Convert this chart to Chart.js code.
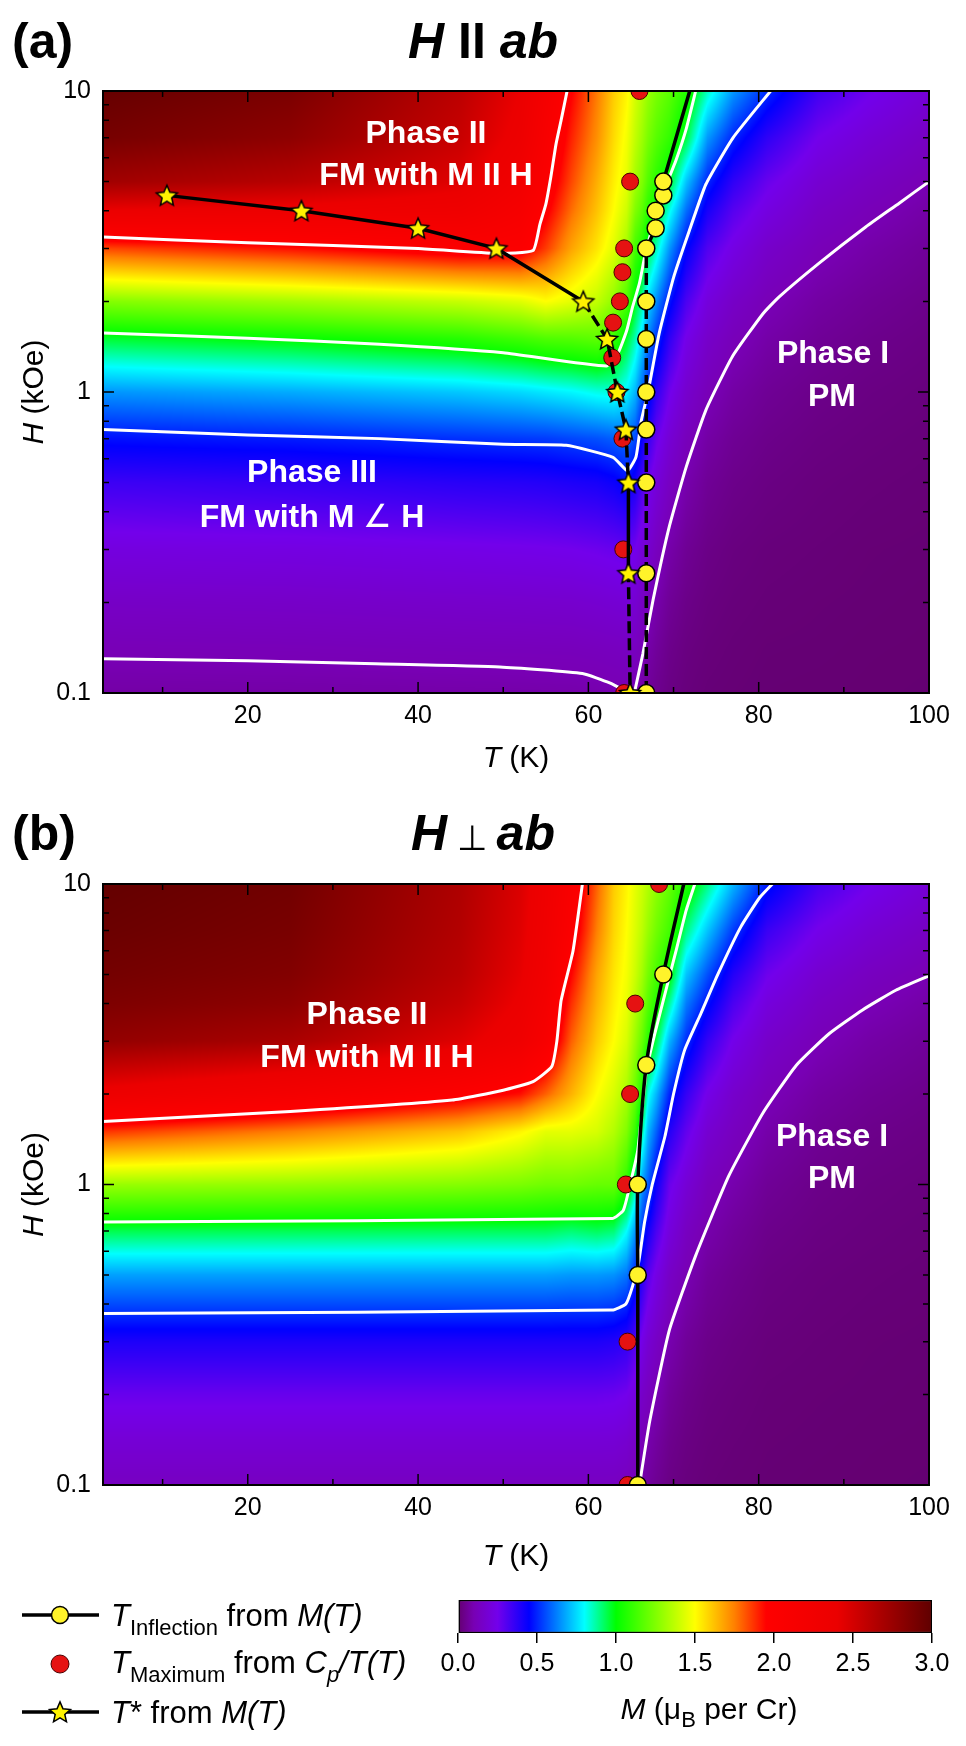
<!DOCTYPE html>
<html lang="en">
<head>
<meta charset="UTF-8">
<title>Phase diagram, H II ab and H ⊥ ab</title>
<script src="https://cdn.jsdelivr.net/npm/chart.js"></script>
<style>
    body { margin: 0; background: #fff; }
    .panel { position: absolute; left: 0; }
</style>
</head>
<body>
<canvas id="chartA" class="panel" width="966" height="780" style="top:0"></canvas>
<canvas id="chartB" class="panel" width="966" height="790" style="top:790px"></canvas>
<canvas id="chartC" class="panel" width="966" height="166" style="top:1580px"></canvas>

<script>
const FONT = '"Liberation Sans", Arial, Helvetica, sans-serif';

// ---------- axes ----------
const xTickVals = [10, 20, 30, 40, 50, 60, 70, 80, 90, 100];
const xLabelTicks = [20, 40, 60, 80, 100];
const yTickVals = [0.1, 0.2, 0.3, 0.4, 0.5, 0.6, 0.7, 0.8, 0.9, 1, 2, 3, 4, 5, 6, 7, 8, 9, 10];
const yLabelTicks = [0.1, 1, 10];
const cbarTicks = [0, 0.5, 1, 1.5, 2, 2.5, 3];

// colour scale of M (muB per Cr)
const cmapVals = [0, 0.1, 0.25, 0.45, 0.8, 1.0, 1.5, 1.75, 1.95, 2.4, 3.0];
const cmapRGB = [[100,0,112],[120,0,180],[115,0,235],[0,0,255],[0,255,255],[0,255,0],
                 [255,255,0],[255,128,0],[255,0,0],[235,0,0],[95,0,0]];

// ---------- magnetisation maps ----------
// nodes of the map: temperature (K) and field (kOe)
const tempNodes = [3, 25, 45, 52, 55, 58, 61, 63, 64.5, 65.5, 66.3, 67, 68, 69.5, 71.5, 74, 77, 81, 87, 93, 100];
const fieldNodes = [0.1, 0.14, 0.2, 0.3, 0.5, 0.7, 1, 1.5, 2, 3, 4, 5, 7, 10];

// panel (a): one row per temperature node, values at each field node
const magA = [
    [0.079, 0.107, 0.149, 0.216, 0.345, 0.469, 0.655, 0.958, 1.257, 1.843, 2.4, 2.72, 2.9, 2.97],
    [0.080, 0.111, 0.154, 0.224, 0.358, 0.487, 0.685, 1.005, 1.32, 1.93, 2.35, 2.62, 2.8, 2.88],
    [0.083, 0.117, 0.163, 0.237, 0.38, 0.515, 0.725, 1.07, 1.39, 2.04, 2.3, 2.45, 2.55, 2.6],
    [0.084, 0.118, 0.166, 0.242, 0.385, 0.525, 0.75, 1.12, 1.44, 2.02, 2.15, 2.25, 2.35, 2.4],
    [0.085, 0.119, 0.168, 0.245, 0.39, 0.53, 0.77, 1.15, 1.5, 1.86, 1.98, 2.05, 2.12, 2.18],
    [0.086, 0.12, 0.17, 0.25, 0.40, 0.545, 0.79, 1.16, 1.45, 1.68, 1.78, 1.84, 1.9, 1.96],
    [0.089, 0.125, 0.178, 0.26, 0.41, 0.56, 0.82, 1.18, 1.38, 1.55, 1.62, 1.66, 1.72, 1.76],
    [0.095, 0.13, 0.185, 0.27, 0.43, 0.58, 0.83, 1.1, 1.28, 1.44, 1.5, 1.53, 1.57, 1.6],
    [0.099, 0.135, 0.19, 0.28, 0.46, 0.6, 0.78, 0.97, 1.15, 1.32, 1.4, 1.45, 1.48, 1.52],
    [0.097, 0.13, 0.18, 0.25, 0.41, 0.55, 0.7, 0.86, 0.98, 1.13, 1.25, 1.32, 1.38, 1.42],
    [0.078, 0.105, 0.145, 0.2, 0.33, 0.44, 0.58, 0.75, 0.88, 1.06, 1.18, 1.25, 1.31, 1.36],
    [0.06, 0.083, 0.117, 0.17, 0.26, 0.36, 0.5, 0.63, 0.75, 0.96, 1.08, 1.16, 1.24, 1.3],
    [0.045, 0.063, 0.088, 0.13, 0.2, 0.27, 0.37, 0.52, 0.64, 0.85, 1.01, 1.08, 1.17, 1.24],
    [0.029, 0.04, 0.057, 0.085, 0.14, 0.19, 0.26, 0.37, 0.48, 0.66, 0.82, 0.98, 1.1, 1.18],
    [0.018, 0.025, 0.036, 0.054, 0.089, 0.12, 0.17, 0.24, 0.32, 0.46, 0.6, 0.72, 0.95, 1.07],
    [0.011, 0.016, 0.023, 0.034, 0.056, 0.078, 0.11, 0.16, 0.21, 0.31, 0.41, 0.5, 0.66, 0.85],
    [0.008, 0.011, 0.016, 0.023, 0.039, 0.054, 0.077, 0.114, 0.152, 0.23, 0.3, 0.37, 0.5, 0.66],
    [0.005, 0.007, 0.011, 0.016, 0.028, 0.039, 0.055, 0.082, 0.107, 0.16, 0.22, 0.27, 0.37, 0.51],
    [0.004, 0.006, 0.008, 0.012, 0.019, 0.027, 0.038, 0.057, 0.075, 0.11, 0.145, 0.18, 0.25, 0.34],
    [0.003, 0.004, 0.006, 0.008, 0.014, 0.02, 0.028, 0.042, 0.056, 0.083, 0.11, 0.137, 0.19, 0.26],
    [0.002, 0.003, 0.004, 0.006, 0.01, 0.014, 0.02, 0.03, 0.04, 0.06, 0.08, 0.1, 0.14, 0.19]
];

// panel (b)
const magB = [
    [0.136, 0.19, 0.27, 0.40, 0.67, 0.94, 1.30, 1.87, 2.35, 2.78, 2.87, 2.91, 2.95, 2.98],
    [0.135, 0.19, 0.27, 0.40, 0.67, 0.935, 1.29, 1.75, 2.2, 2.68, 2.8, 2.85, 2.89, 2.92],
    [0.135, 0.19, 0.27, 0.40, 0.67, 0.93, 1.26, 1.62, 2.02, 2.45, 2.56, 2.61, 2.64, 2.66],
    [0.135, 0.19, 0.27, 0.40, 0.67, 0.93, 1.24, 1.52, 1.93, 2.3, 2.38, 2.42, 2.45, 2.47],
    [0.135, 0.19, 0.27, 0.40, 0.67, 0.93, 1.22, 1.45, 1.8, 2.12, 2.2, 2.25, 2.28, 2.3],
    [0.135, 0.19, 0.27, 0.40, 0.66, 0.91, 1.22, 1.45, 1.65, 1.8, 1.88, 1.95, 2.05, 2.1],
    [0.135, 0.19, 0.27, 0.40, 0.66, 0.93, 1.2, 1.42, 1.5, 1.6, 1.65, 1.68, 1.75, 1.8],
    [0.134, 0.188, 0.265, 0.39, 0.65, 0.91, 1.2, 1.35, 1.42, 1.5, 1.53, 1.55, 1.58, 1.6],
    [0.125, 0.175, 0.25, 0.37, 0.61, 0.8, 1.08, 1.25, 1.33, 1.42, 1.46, 1.48, 1.5, 1.52],
    [0.104, 0.145, 0.21, 0.31, 0.5, 0.66, 0.88, 1.1, 1.2, 1.3, 1.36, 1.4, 1.43, 1.45],
    [0.08, 0.11, 0.155, 0.235, 0.39, 0.53, 0.66, 0.88, 1.05, 1.2, 1.27, 1.32, 1.37, 1.4],
    [0.066, 0.09, 0.128, 0.185, 0.3, 0.42, 0.58, 0.7, 0.82, 1.08, 1.17, 1.23, 1.3, 1.35],
    [0.05, 0.07, 0.1, 0.145, 0.23, 0.32, 0.43, 0.58, 0.7, 0.94, 1.07, 1.14, 1.22, 1.28],
    [0.031, 0.044, 0.063, 0.094, 0.15, 0.21, 0.27, 0.39, 0.5, 0.7, 0.88, 1.02, 1.13, 1.2],
    [0.02, 0.028, 0.04, 0.06, 0.1, 0.135, 0.19, 0.28, 0.36, 0.51, 0.62, 0.72, 0.9, 1.06],
    [0.013, 0.018, 0.025, 0.038, 0.063, 0.088, 0.12, 0.18, 0.24, 0.36, 0.47, 0.56, 0.72, 0.9],
    [0.009, 0.013, 0.018, 0.027, 0.045, 0.063, 0.09, 0.13, 0.165, 0.245, 0.32, 0.39, 0.53, 0.7],
    [0.006, 0.008, 0.011, 0.017, 0.028, 0.04, 0.057, 0.085, 0.11, 0.16, 0.21, 0.26, 0.35, 0.48],
    [0.004, 0.006, 0.008, 0.012, 0.019, 0.027, 0.037, 0.055, 0.073, 0.108, 0.142, 0.175, 0.245, 0.33],
    [0.003, 0.004, 0.006, 0.008, 0.014, 0.02, 0.027, 0.04, 0.054, 0.08, 0.106, 0.132, 0.185, 0.255],
    [0.002, 0.003, 0.004, 0.006, 0.01, 0.014, 0.02, 0.03, 0.04, 0.06, 0.08, 0.1, 0.14, 0.19]
];

// ---------- white iso-M lines [T, H] ----------
const contA_01L = [[3,0.13],[20,0.128],[35,0.125],[49.6,0.122],[59.3,0.116],[62.5,0.108],[64.8,0.1]];
const contA_01R = [[65.4,0.1],[66.4,0.135],[67.6,0.204],[69.5,0.357],[71.5,0.565],[73.8,0.871],[76.9,1.31],
                   [80.5,1.82],[82.4,2.07],[87.1,2.68],[92.6,3.54],[96.5,4.24],[100,5.0]];
const contA_05 = [[3,0.75],[20,0.72],[35.5,0.70],[50,0.67],[57.4,0.665],[62.9,0.607],[64.6,0.547],[65.6,0.61],
                  [66.2,0.8],[67,1.0],[68.3,1.56],[70,2.4],[71.8,3.4],[73.8,4.9],[77,7],[81.4,10]];
const contA_10 = [[3,1.57],[20,1.51],[35.5,1.44],[50,1.35],[62.1,1.22],[63.5,1.35],[64.5,1.6],[65.2,1.92],
                  [66,2.3],[66.6,2.8],[67.6,3.6],[68.8,4.6],[70.3,5.9],[71.5,7.5],[72.6,10]];
const contA_20 = [[3,3.27],[20,3.13],[40,3.0],[49.2,2.89],[53.5,2.95],[54.3,3.6],[55,4.2],[55.6,5.2],
                  [56.2,6.66],[56.8,8],[57.5,10]];

const contB_01 = [[66.0,0.1],[67.2,0.163],[69.5,0.327],[72.6,0.58],[76.5,1.07],[80.5,1.73],[84.4,2.49],
                  [88.3,3.18],[92.2,3.81],[96.1,4.43],[100,4.95]];
const contB_05 = [[3,0.372],[62.8,0.382],[64.4,0.40],[65.2,0.46],[65.9,0.55],[66.6,0.75],[67.5,1.0],[69,1.45],
                  [70,2.0],[71.3,2.8],[73.2,3.7],[75.2,5.0],[77.9,7.2],[80.1,9.0],[81.6,10]];
const contB_10 = [[3,0.75],[62.8,0.77],[64.1,0.82],[64.9,1.0],[65.8,1.30],[66.8,2.39],[67.9,3.26],[69.1,4.43],
                  [70.3,6.0],[71.5,8.2],[72.5,10]];
const contB_20 = [[3,1.62],[25,1.75],[44,1.91],[50,2.06],[53.5,2.2],[55.7,2.47],[56.3,3.0],[56.8,4.1],
                  [58.2,6],[59.3,10]];

// ---------- transition points ----------
// panel (a)
const inflT_A = [66.8, 66.8, 66.8, 66.8, 66.8, 66.8, 66.8, 66.8, 67.9, 67.9, 68.8, 68.8];
const inflH_A = [0.1, 0.25, 0.5, 0.75, 1, 1.5, 2, 3, 3.5, 4, 4.5, 5];
const inflGuideA = [71.9, 10];
const maxT_A = [66.0, 64.9, 64.2, 64.0, 63.7, 62.9, 62.8, 63.3, 64.0, 64.1, 64.2];
const maxH_A = [10, 5, 3, 2.5, 2, 1.7, 1.3, 1.0, 0.7, 0.3, 0.1];
const starT_A = [10.5, 26.3, 40.0, 49.2, 59.4, 62.2, 63.4, 64.4, 64.7, 64.7, 64.9];
const starH_A = [4.5, 4.0, 3.5, 3.0, 2.0, 1.5, 1.0, 0.75, 0.5, 0.25, 0.1];
// panel (b)
const inflT_B = [65.8, 65.8, 65.8, 66.8, 68.8];
const inflH_B = [0.1, 0.5, 1.0, 2.5, 5.0];
const inflGuideB = [71.2, 10];
const maxT_B = [64.6, 64.6, 64.4, 64.9, 65.5, 68.3];
const maxH_B = [0.1, 0.3, 1.0, 2.0, 4.0, 10];

// ---------- helpers ----------
function cmap(m) {
    if (m <= cmapVals[0]) return cmapRGB[0];
    for (let i = 1; i < cmapVals.length; i++) {
        if (m <= cmapVals[i]) {
            const f = (m - cmapVals[i - 1]) / (cmapVals[i] - cmapVals[i - 1]);
            const a = cmapRGB[i - 1], b = cmapRGB[i];
            return [a[0] + (b[0] - a[0]) * f, a[1] + (b[1] - a[1]) * f, a[2] + (b[2] - a[2]) * f];
        }
    }
    return cmapRGB[cmapRGB.length - 1];
}

function locate(nodes, v) {
    if (v <= nodes[0]) return [0, 0];
    const n = nodes.length;
    if (v >= nodes[n - 1]) return [n - 2, 1];
    let k = 0;
    while (nodes[k + 1] < v) k++;
    return [k, (v - nodes[k]) / (nodes[k + 1] - nodes[k])];
}

function makeStar(r) {
    const c = document.createElement('canvas');
    const s = Math.ceil(r * 2 + 4);
    c.width = s; c.height = s;
    const g = c.getContext('2d');
    g.translate(s / 2, s / 2 + r * 0.08);
    g.beginPath();
    for (let k = 0; k < 10; k++) {
        const rad = k % 2 ? r * 0.46 : r;
        const a = -Math.PI / 2 + k * Math.PI / 5;
        g.lineTo(rad * Math.cos(a), rad * Math.sin(a));
    }
    g.closePath();
    g.fillStyle = '#fff200';
    g.fill();
    g.lineWidth = 1.5;
    g.strokeStyle = '#000';
    g.stroke();
    return c;
}
const starImg = makeStar(11);

function fontOf(flags, size, bold) {
    const it = flags.includes('i') ? 'italic ' : '';
    const b = (bold && !flags.includes('n')) || flags.includes('b') ? 'bold ' : '';
    return it + b + size + 'px ' + FONT;
}

// parts: [text, flags, sizeFactor]; flags: i italic, n not bold, s subscript
function drawRich(ctx, item) {
    const {parts, x, y, align = 'left', size, bold = false, color = '#000', rotate = 0} = item;
    ctx.save();
    ctx.translate(x, y);
    if (rotate) ctx.rotate(rotate);
    ctx.fillStyle = color;
    ctx.textBaseline = 'alphabetic';
    ctx.textAlign = 'left';
    const sz = p => Math.round(size * (p[2] || (p[1].includes('s') ? 0.72 : 1)));
    let w = 0;
    const widths = parts.map(p => {
        ctx.font = fontOf(p[1], sz(p), bold);
        const m = ctx.measureText(p[0]).width;
        w += m;
        return m;
    });
    let cx = align === 'center' ? -w / 2 : align === 'right' ? -w : 0;
    parts.forEach((p, i) => {
        ctx.font = fontOf(p[1], sz(p), bold);
        ctx.fillText(p[0], cx, p[1].includes('s') ? size * 0.28 : 0);
        cx += widths[i];
    });
    ctx.restore();
}

// ---------- plugins ----------
function heatPlugin(grid) {
    return {
        id: 'heat',
        beforeDatasetsDraw(chart) {
            const {ctx, chartArea: a, scales: {x, y}} = chart;
            const w = Math.round(a.right - a.left), h = Math.round(a.bottom - a.top);
            const off = document.createElement('canvas');
            off.width = w; off.height = h;
            const octx = off.getContext('2d');
            const img = octx.createImageData(w, h);
            const logNodes = fieldNodes.map(Math.log10);
            const cols = [], rows = [];
            for (let i = 0; i < w; i++) cols.push(locate(tempNodes, x.getValueForPixel(a.left + i + 0.5)));
            for (let j = 0; j < h; j++) rows.push(locate(logNodes, Math.log10(y.getValueForPixel(a.top + j + 0.5))));
            let p = 0;
            for (let j = 0; j < h; j++) {
                const [r, fr] = rows[j];
                for (let i = 0; i < w; i++) {
                    const [c, fc] = cols[i];
                    const g0 = grid[c], g1 = grid[c + 1];
                    const m = (1 - fc) * ((1 - fr) * g0[r] + fr * g0[r + 1]) +
                              fc * ((1 - fr) * g1[r] + fr * g1[r + 1]);
                    const col = cmap(m);
                    img.data[p++] = col[0];
                    img.data[p++] = col[1];
                    img.data[p++] = col[2];
                    img.data[p++] = 255;
                }
            }
            octx.putImageData(img, 0, 0);
            ctx.drawImage(off, a.left, a.top);
        }
    };
}

const framePlugin = {
    id: 'frame',
    afterDatasetsDraw(chart) {
        const {ctx, chartArea: a, scales: {x, y}} = chart;
        ctx.save();
        ctx.strokeStyle = '#000';
        ctx.lineWidth = 1.5;
        ctx.beginPath();
        xTickVals.forEach(v => {
            const px = x.getPixelForValue(v);
            const len = xLabelTicks.includes(v) ? 11 : 6;
            ctx.moveTo(px, a.bottom); ctx.lineTo(px, a.bottom - len);
            ctx.moveTo(px, a.top); ctx.lineTo(px, a.top + len);
        });
        yTickVals.forEach(v => {
            const py = y.getPixelForValue(v);
            const len = yLabelTicks.includes(v) ? 11 : 6;
            ctx.moveTo(a.left, py); ctx.lineTo(a.left + len, py);
            ctx.moveTo(a.right, py); ctx.lineTo(a.right - len, py);
        });
        ctx.stroke();
        ctx.lineWidth = 2;
        ctx.strokeRect(a.left, a.top, a.right - a.left, a.bottom - a.top);
        ctx.restore();
    }
};

function textPlugin(items, extra) {
    return {
        id: 'notes',
        afterDraw(chart) {
            items.forEach(it => drawRich(chart.ctx, it));
            if (extra) extra(chart.ctx);
        }
    };
}

// ---------- datasets ----------
const pts = (T, H) => T.map((t, i) => ({x: t, y: H[i]}));
const pairs = arr => arr.map(p => ({x: p[0], y: p[1]}));

function contour(arr) {
    return {data: pairs(arr), showLine: true, borderColor: '#fff', borderWidth: 3,
            pointRadius: 0, tension: 0.15, order: 10};
}
function redDots(T, H) {
    return {data: pts(T, H), showLine: false, pointRadius: 8.5, pointBackgroundColor: '#e51212',
            pointBorderColor: '#4a0000', pointBorderWidth: 1, order: 3};
}
function dashed(below) {
    return c => (below > 0 && Math.max(c.p0.parsed.y, c.p1.parsed.y) <= below + 1e-9) ? [12, 5] : undefined;
}
function inflLine(T, H, guide, below, tension) {
    const n = T.length;
    return {data: pts(T, H).concat([{x: guide[0], y: guide[1]}]), showLine: true,
            borderColor: '#000', borderWidth: 3.5, tension: tension,
            pointRadius: c => c.dataIndex < n ? 8.5 : 0,
            pointBackgroundColor: '#fff32a', pointBorderColor: '#000', pointBorderWidth: 1.5,
            segment: {borderDash: dashed(below)}, order: 2};
}
function starLine(T, H, below) {
    return {data: pts(T, H), showLine: true, borderColor: '#000', borderWidth: 3.5, tension: 0,
            pointStyle: starImg, pointRadius: 11, segment: {borderDash: dashed(below)}, order: 1};
}

function panelScales(xHeight) {
    return {
        x: {
            type: 'linear', min: 3, max: 100,
            grid: {display: false, drawTicks: false}, border: {display: false},
            afterBuildTicks: s => { s.ticks = xTickVals.map(v => ({value: v})); },
            afterFit: s => { s.height = xHeight; },
            ticks: {autoSkip: false, maxRotation: 0, padding: 8, color: '#000',
                    font: {family: FONT, size: 25},
                    callback: v => xLabelTicks.includes(v) ? String(v) : ''}
        },
        y: {
            type: 'logarithmic', min: 0.1, max: 10,
            grid: {display: false, drawTicks: false}, border: {display: false},
            afterBuildTicks: s => { s.ticks = yTickVals.map(v => ({value: v})); },
            afterFit: s => { s.width = 103; },
            ticks: {autoSkip: false, padding: 12, color: '#000',
                    font: {family: FONT, size: 25},
                    callback: v => yLabelTicks.includes(v) ? String(v) : ''}
        }
    };
}

function makePanel(id, grid, datasets, texts, padTop, xHeight) {
    return new Chart(document.getElementById(id), {
        type: 'scatter',
        data: {datasets: datasets},
        options: {
            responsive: false, animation: false, events: [],
            layout: {padding: {top: padTop, right: 37, left: 0, bottom: 0}},
            plugins: {legend: {display: false}, tooltip: {enabled: false}},
            scales: panelScales(xHeight)
        },
        plugins: [heatPlugin(grid), framePlugin, textPlugin(texts)]
    });
}

const white = {bold: true, color: '#fff', size: 32, align: 'center'};

makePanel('chartA', magA, [
    starLine(starT_A, starH_A, 2),
    inflLine(inflT_A, inflH_A, inflGuideA, 3, 0),
    redDots(maxT_A, maxH_A),
    contour(contA_01L), contour(contA_01R), contour(contA_05), contour(contA_10), contour(contA_20)
], [
    {parts: [['(a)', '']], x: 12, y: 58, size: 50, bold: true},
    {parts: [['H', 'i'], [' II ', ''], ['ab', 'i']], x: 483, y: 58, size: 50, bold: true, align: 'center'},
    Object.assign({parts: [['Phase II', '']], x: 426, y: 143}, white),
    Object.assign({parts: [['FM with M II H', '']], x: 426, y: 185}, white),
    Object.assign({parts: [['Phase III', '']], x: 312, y: 482}, white),
    Object.assign({parts: [['FM with M ', ''], ['∠', 'n'], [' H', '']], x: 312, y: 527}, white),
    Object.assign({parts: [['Phase I', '']], x: 833, y: 363}, white),
    Object.assign({parts: [['PM', '']], x: 832, y: 406}, white),
    {parts: [['T', 'i'], [' (K)', '']], x: 516, y: 767, size: 30, align: 'center'},
    {parts: [['H', 'i'], [' (kOe)', '']], x: 43, y: 392, size: 30, align: 'center', rotate: -Math.PI / 2}
], 91, 87);

makePanel('chartB', magB, [
    inflLine(inflT_B, inflH_B, inflGuideB, 0, 0.3),
    redDots(maxT_B, maxH_B),
    contour(contB_01), contour(contB_05), contour(contB_10), contour(contB_20)
], [
    {parts: [['(b)', '']], x: 12, y: 60, size: 50, bold: true},
    {parts: [['H', 'i'], [' ⊥ ', 'n', 0.7], ['ab', 'i']], x: 483, y: 60, size: 50, bold: true, align: 'center'},
    Object.assign({parts: [['Phase II', '']], x: 367, y: 234}, white),
    Object.assign({parts: [['FM with M II H', '']], x: 367, y: 277}, white),
    Object.assign({parts: [['Phase I', '']], x: 832, y: 356}, white),
    Object.assign({parts: [['PM', '']], x: 832, y: 398}, white),
    {parts: [['T', 'i'], [' (K)', '']], x: 516, y: 775, size: 30, align: 'center'},
    {parts: [['H', 'i'], [' (kOe)', '']], x: 43, y: 394.5, size: 30, align: 'center', rotate: -Math.PI / 2}
], 94, 95);

// ---------- legend + colour bar ----------
function drawLegendIcons(ctx) {
    ctx.save();
    ctx.strokeStyle = '#000';
    ctx.lineWidth = 3.5;
    [35, 132].forEach(yy => { ctx.beginPath(); ctx.moveTo(22, yy); ctx.lineTo(99, yy); ctx.stroke(); });
    ctx.lineWidth = 1.5;
    ctx.fillStyle = '#fff32a';
    ctx.beginPath(); ctx.arc(60, 35, 8.5, 0, Math.PI * 2); ctx.fill(); ctx.stroke();
    ctx.lineWidth = 1;
    ctx.fillStyle = '#e51212';
    ctx.strokeStyle = '#4a0000';
    ctx.beginPath(); ctx.arc(60, 84, 9, 0, Math.PI * 2); ctx.fill(); ctx.stroke();
    ctx.drawImage(starImg, 60 - starImg.width / 2, 132 - starImg.height / 2);
    ctx.restore();
}

new Chart(document.getElementById('chartC'), {
    type: 'bar',
    data: {
        labels: ['M'],
        datasets: [{
            data: [[cbarTicks[0], cbarTicks[cbarTicks.length - 1]]],
            backgroundColor: c => {
                const ch = c.chart, xs = ch.scales.x;
                if (!xs || !ch.chartArea) return '#888';
                const x0 = xs.getPixelForValue(0), x1 = xs.getPixelForValue(3);
                const g = ch.ctx.createLinearGradient(x0, 0, x1, 0);
                cmapVals.forEach((v, i) => g.addColorStop(v / 3, 'rgb(' + cmapRGB[i].join(',') + ')'));
                return g;
            },
            borderColor: '#000', borderWidth: 1.5, borderSkipped: false,
            barPercentage: 1, categoryPercentage: 1
        }]
    },
    options: {
        indexAxis: 'y', responsive: false, animation: false, events: [],
        layout: {padding: {left: 458, right: 34, top: 20, bottom: 0}},
        plugins: {legend: {display: false}, tooltip: {enabled: false}},
        scales: {
            x: {
                type: 'linear', min: 0, max: 3,
                afterBuildTicks: s => { s.ticks = cbarTicks.map(v => ({value: v})); },
                afterFit: s => { s.height = 113; },
                grid: {drawOnChartArea: false, drawTicks: true, tickLength: 10, color: '#000', lineWidth: 1.5},
                border: {display: false},
                ticks: {autoSkip: false, maxRotation: 0, padding: 6, color: '#000',
                        font: {family: FONT, size: 25}, callback: v => v.toFixed(1)}
            },
            y: {display: false}
        }
    },
    plugins: [textPlugin([
        {parts: [['T', 'i'], ['Inflection', 's'], [' from ', ''], ['M(T)', 'i']], x: 111, y: 46, size: 31},
        {parts: [['T', 'i'], ['Maximum', 's'], [' from ', ''], ['C', 'i'], ['p', 'is'], ['/T(T)', 'i']], x: 111, y: 93, size: 31},
        {parts: [['T', 'i'], ['*', ''], [' from ', ''], ['M(T)', 'i']], x: 111, y: 143, size: 31},
        {parts: [['M', 'i'], [' (μ', ''], ['B', 's'], [' per Cr)', '']], x: 709, y: 139, size: 30, align: 'center'}
    ], drawLegendIcons)]
});
</script>
</body>
</html>
